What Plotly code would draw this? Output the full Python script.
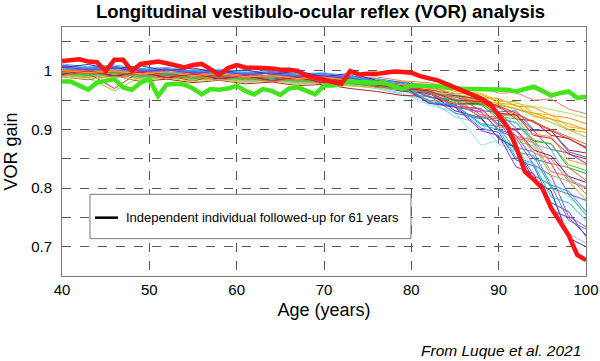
import plotly.graph_objects as go

# ---------------- data ----------------
ages = list(range(40, 101))

# independent individual followed-up for 61 years (thick red)
red_gain = [1.017, 1.018, 1.020, 1.016, 1.015, 1.000, 1.019, 1.019, 1.000, 1.012,
            1.014, 1.016, 1.013, 1.010, 1.006, 1.010, 1.012, 1.003, 0.993, 1.005,
            1.010, 1.006, 1.006, 1.005, 1.004, 1.002, 1.002, 1.000, 0.992, 0.989,
            0.985, 0.981, 0.978, 1.000, 0.994, 0.995, 0.995, 0.997, 0.999, 0.998,
            0.997, 0.991, 0.988, 0.984, 0.978, 0.972, 0.967, 0.961, 0.953, 0.944,
            0.925, 0.905, 0.870, 0.828, 0.815, 0.800, 0.766, 0.743, 0.720, 0.686,
            0.677]

# thick green individual
green_gain = [0.982, 0.982, 0.975, 0.968, 0.980, 0.983, 0.986, 0.972, 0.968, 0.980,
              0.986, 0.957, 0.977, 0.978, 0.977, 0.970, 0.960, 0.969, 0.968, 0.970,
              0.975, 0.966, 0.960, 0.969, 0.966, 0.959, 0.970, 0.972, 0.965, 0.960,
              0.975, 0.975, 0.977, 0.983, 0.981, 0.981, 0.980, 0.979, 0.974, 0.969,
              0.975, 0.975, 0.975, 0.974, 0.972, 0.970, 0.969, 0.969, 0.969, 0.969,
              0.969, 0.968, 0.965, 0.970, 0.973, 0.966, 0.958, 0.962, 0.965, 0.954,
              0.956]

# thin individual trajectories
thin_ages = [40, 43, 46, 49, 52, 55, 58, 61, 64, 67, 70, 73,
             76, 79, 82, 85, 88, 90, 92, 94, 96, 98, 100]

thin_gains = [
    [1.004, 1.000, 1.006, 0.998, 1.002, 0.996, 0.999, 0.994, 0.997, 0.990, 0.993, 0.988,
     0.990, 0.983, 0.980, 0.970, 0.972, 0.962, 0.963, 0.950, 0.952, 0.935, 0.927],
    [0.998, 1.003, 0.995, 1.001, 0.996, 0.999, 0.992, 0.996, 0.990, 0.993, 0.986, 0.989,
     0.984, 0.982, 0.970, 0.968, 0.955, 0.953, 0.940, 0.938, 0.924, 0.920, 0.910],
    [1.008, 1.002, 1.005, 0.999, 1.003, 0.997, 1.000, 0.995, 0.998, 0.992, 0.994, 0.989,
     0.986, 0.980, 0.977, 0.965, 0.962, 0.948, 0.948, 0.928, 0.925, 0.905, 0.900],
    [0.992, 0.988, 0.966, 0.990, 0.985, 0.990, 0.984, 0.987, 0.982, 0.985, 0.980, 0.978,
     0.975, 0.970, 0.965, 0.958, 0.950, 0.944, 0.935, 0.925, 0.912, 0.900, 0.887],
    [1.000, 0.995, 0.999, 0.993, 0.997, 0.991, 0.994, 0.989, 0.992, 0.985, 0.988, 0.982,
     0.980, 0.978, 0.962, 0.960, 0.942, 0.940, 0.918, 0.915, 0.890, 0.885, 0.868],
    [1.010, 1.005, 1.008, 1.002, 1.004, 0.999, 1.001, 0.996, 0.999, 0.994, 0.996, 0.990,
     0.987, 0.980, 0.975, 0.958, 0.952, 0.930, 0.932, 0.900, 0.898, 0.862, 0.853],
    [1.001, 1.006, 0.998, 1.003, 0.996, 1.000, 0.992, 0.997, 0.990, 0.994, 0.986, 0.990,
     0.981, 0.978, 0.960, 0.958, 0.932, 0.930, 0.902, 0.898, 0.866, 0.860, 0.842],
    [0.995, 0.990, 0.994, 0.988, 0.991, 0.985, 0.988, 0.983, 0.986, 0.980, 0.982, 0.977,
     0.973, 0.966, 0.962, 0.945, 0.942, 0.918, 0.912, 0.880, 0.876, 0.835, 0.825],
    [0.997, 1.002, 0.994, 1.000, 0.991, 0.997, 0.988, 0.994, 0.986, 0.991, 0.982, 0.988,
     0.978, 0.976, 0.955, 0.952, 0.925, 0.920, 0.888, 0.882, 0.842, 0.835, 0.813],
    [1.012, 1.007, 1.010, 1.004, 1.006, 1.000, 1.003, 0.998, 1.001, 0.995, 0.997, 0.991,
     0.987, 0.978, 0.972, 0.952, 0.948, 0.920, 0.912, 0.875, 0.866, 0.815, 0.802],
    [1.000, 0.996, 0.999, 0.993, 0.996, 0.990, 0.993, 0.988, 0.990, 0.985, 0.984, 0.978,
     0.972, 0.962, 0.942, 0.930, 0.873, 0.882, 0.865, 0.840, 0.812, 0.785, 0.760],
    [0.999, 1.004, 0.996, 1.002, 0.993, 0.999, 0.990, 0.995, 0.987, 0.993, 0.983, 0.989,
     0.978, 0.968, 0.962, 0.938, 0.930, 0.900, 0.890, 0.850, 0.842, 0.790, 0.779],
    [0.998, 0.993, 0.996, 0.990, 0.993, 0.987, 0.990, 0.985, 0.988, 0.982, 0.984, 0.978,
     0.973, 0.970, 0.946, 0.942, 0.910, 0.905, 0.862, 0.855, 0.800, 0.790, 0.754],
    [1.008, 1.000, 1.006, 1.004, 0.997, 1.002, 0.999, 0.991, 0.997, 0.994, 0.987, 0.993,
     0.982, 0.972, 0.966, 0.940, 0.930, 0.898, 0.885, 0.840, 0.822, 0.752, 0.734],
    [0.998, 1.003, 0.995, 1.001, 0.992, 0.998, 0.989, 0.994, 0.986, 0.992, 0.982, 0.988,
     0.976, 0.972, 0.945, 0.940, 0.902, 0.895, 0.848, 0.838, 0.775, 0.760, 0.717],
    [0.996, 0.991, 0.994, 0.988, 0.991, 0.985, 0.988, 0.983, 0.986, 0.980, 0.982, 0.976,
     0.970, 0.960, 0.950, 0.922, 0.910, 0.875, 0.862, 0.812, 0.795, 0.722, 0.706],
    [0.990, 0.985, 0.992, 0.982, 0.986, 0.980, 0.984, 0.978, 0.981, 0.975, 0.977, 0.970,
     0.965, 0.958, 0.957, 0.943, 0.945, 0.925, 0.925, 0.898, 0.898, 0.865, 0.860],
    [0.994, 0.989, 0.993, 0.986, 0.990, 0.984, 0.987, 0.981, 0.984, 0.978, 0.980, 0.975,
     0.972, 0.968, 0.962, 0.956, 0.948, 0.942, 0.935, 0.928, 0.918, 0.910, 0.900],
    [0.996, 1.001, 0.993, 0.999, 0.990, 0.996, 0.987, 0.993, 0.984, 0.990, 0.980, 0.986,
     0.975, 0.972, 0.950, 0.946, 0.922, 0.918, 0.880, 0.872, 0.822, 0.812, 0.780],
    [1.005, 1.003, 0.996, 1.000, 1.002, 0.994, 0.997, 0.993, 0.988, 0.994, 0.990, 0.984,
     0.979, 0.970, 0.968, 0.950, 0.946, 0.925, 0.922, 0.892, 0.888, 0.848, 0.840],
    [1.009, 1.004, 1.007, 1.001, 1.003, 0.998, 1.000, 0.995, 0.998, 0.992, 0.994, 0.988,
     0.983, 0.980, 0.955, 0.950, 0.920, 0.915, 0.870, 0.862, 0.805, 0.795, 0.760],
    [0.994, 0.999, 0.991, 0.997, 0.988, 0.994, 0.986, 0.991, 0.983, 0.989, 0.979, 0.985,
     0.974, 0.965, 0.962, 0.940, 0.935, 0.908, 0.900, 0.865, 0.855, 0.820, 0.810],
    [1.002, 0.996, 0.970, 1.000, 0.994, 0.982, 0.996, 0.990, 0.993, 0.987, 0.989, 0.983,
     0.979, 0.974, 0.968, 0.960, 0.950, 0.940, 0.928, 0.912, 0.898, 0.884, 0.870],
    [0.990, 0.986, 0.990, 0.984, 0.988, 0.982, 0.985, 0.980, 0.983, 0.977, 0.979, 0.974,
     0.971, 0.968, 0.964, 0.960, 0.955, 0.950, 0.945, 0.940, 0.934, 0.928, 0.920],
    [1.006, 0.998, 1.004, 1.001, 0.995, 1.001, 0.992, 0.997, 0.995, 0.989, 0.991, 0.985,
     0.979, 0.968, 0.958, 0.928, 0.918, 0.885, 0.870, 0.822, 0.805, 0.745, 0.730],
    [0.992, 0.997, 0.989, 0.995, 0.986, 0.992, 0.984, 0.989, 0.981, 0.987, 0.977, 0.983,
     0.972, 0.970, 0.950, 0.946, 0.922, 0.918, 0.885, 0.878, 0.828, 0.820, 0.790],
    [1.000, 0.995, 0.998, 0.992, 0.995, 0.989, 0.992, 0.987, 0.990, 0.984, 0.986, 0.980,
     0.976, 0.970, 0.963, 0.955, 0.945, 0.937, 0.926, 0.914, 0.900, 0.888, 0.875],
    [1.006, 1.011, 1.003, 1.009, 1.000, 1.005, 0.997, 1.002, 0.994, 1.000, 0.990, 0.996,
     0.984, 0.972, 0.963, 0.932, 0.920, 0.885, 0.868, 0.815, 0.795, 0.715, 0.700],
    [1.003, 0.999, 1.001, 0.996, 0.999, 0.993, 0.996, 0.991, 0.993, 0.988, 0.990, 0.984,
     0.980, 0.971, 0.962, 0.940, 0.936, 0.905, 0.898, 0.860, 0.850, 0.812, 0.800],
    [1.001, 1.006, 0.999, 1.004, 0.995, 1.001, 0.993, 0.998, 0.990, 0.995, 0.986, 0.991,
     0.980, 0.976, 0.948, 0.942, 0.908, 0.900, 0.852, 0.842, 0.785, 0.775, 0.745],
    [0.997, 0.992, 0.996, 0.990, 0.993, 0.987, 0.990, 0.985, 0.987, 0.982, 0.984, 0.979,
     0.975, 0.968, 0.965, 0.948, 0.945, 0.922, 0.918, 0.882, 0.875, 0.840, 0.830],
    [1.007, 1.002, 1.005, 0.999, 1.002, 0.996, 0.999, 0.994, 0.996, 0.990, 0.992, 0.986,
     0.980, 0.975, 0.945, 0.938, 0.898, 0.890, 0.836, 0.825, 0.762, 0.750, 0.720],
    [0.995, 1.000, 0.992, 0.998, 0.989, 0.995, 0.987, 0.992, 0.984, 0.989, 0.980, 0.986,
     0.976, 0.970, 0.966, 0.950, 0.948, 0.928, 0.925, 0.890, 0.885, 0.858, 0.850],
    [1.001, 0.997, 1.000, 0.995, 0.998, 0.992, 0.995, 0.990, 0.992, 0.987, 0.989, 0.984,
     0.981, 0.976, 0.972, 0.962, 0.960, 0.945, 0.942, 0.922, 0.918, 0.900, 0.895],
]

thin_colors = ["#f4806a", "#ff8c00", "#f2b600", "#9acd32", "#a01c2c", "#1f6fd8", "#7b2fd0",
               "#2ca02c", "#ff5a1f", "#5ab4f0", "#8fe3f5", "#9b30ff", "#20b070", "#c040c0",
               "#3050e0", "#87c8fa", "#b22222", "#e6a000", "#7ccd3c", "#ff9a20", "#1e90ff",
               "#6a1b9a", "#e8282b", "#b0e060", "#4682b4", "#f06a50", "#d2691e", "#4b2a9a",
               "#ff6347", "#00bfff", "#32cd32", "#8a2be2", "#dc143c", "#ffa500"]

x_ticks = [40, 50, 60, 70, 80, 90, 100]
y_ticks = [0.7, 0.75, 0.8, 0.85, 0.9, 0.95, 1.0, 1.05]
y_tick_text = ["0.7", "", "0.8", "", "0.9", "", "1", ""]

# ---------------- figure ----------------
fig = go.Figure()

for vals, col in zip(thin_gains, thin_colors):
    fig.add_trace(go.Scatter(x=thin_ages, y=vals, mode="lines",
                             line=dict(color=col, width=1),
                             showlegend=False, hoverinfo="skip"))

fig.add_trace(go.Scatter(x=ages, y=green_gain, mode="lines",
                         line=dict(color="#44e41c", width=4.5),
                         showlegend=False, hoverinfo="skip"))
fig.add_trace(go.Scatter(x=ages, y=red_gain, mode="lines",
                         line=dict(color="#ff1414", width=4.5),
                         showlegend=False, hoverinfo="skip"))

grid_col = "#555555"
axis_col = "#7a7a7a"

fig.update_layout(
    width=600, height=361,
    margin=dict(l=62, r=14, t=27, b=85),
    plot_bgcolor="white", paper_bgcolor="white",
    font=dict(family="Liberation Sans, Arial, sans-serif", color="black"),
    title=dict(text="<b>Longitudinal vestibulo-ocular reflex (VOR) analysis</b>",
               x=320.5 / 600, xanchor="center",
               y=1 - 11.5 / 361, yanchor="middle", yref="container",
               font=dict(size=18.5, color="black")),
    xaxis=dict(range=[40, 100], tickvals=x_ticks, ticks="", automargin=False,
               showgrid=True, gridcolor=grid_col, griddash="dash", gridwidth=1,
               showline=True, linecolor=axis_col, linewidth=1, mirror=True,
               zeroline=False, tickfont=dict(size=15),
               title=dict(text="Age (years)", font=dict(size=18), standoff=6)),
    yaxis=dict(range=[0.65, 1.075], tickvals=y_ticks, ticktext=y_tick_text, ticks="",
               automargin=False,
               showgrid=True, gridcolor=grid_col, griddash="dash", gridwidth=1,
               showline=True, linecolor=axis_col, linewidth=1, mirror=True,
               zeroline=False, tickfont=dict(size=15), ticklabelstandoff=6,
               title=dict(text="VOR gain", font=dict(size=18), standoff=8)),
)

# legend box drawn as decoration
fig.add_shape(type="rect", xref="paper", yref="paper",
              x0=0.0534, x1=0.666, y0=0.150, y1=0.328,
              line=dict(color=axis_col, width=1), fillcolor="white", layer="above")
fig.add_shape(type="line", xref="paper", yref="paper",
              x0=0.063, x1=0.107, y0=0.2343, y1=0.2343,
              line=dict(color="black", width=2.5), layer="above")
fig.add_annotation(text="Independent individual followed-up for 61 years",
                   xref="paper", yref="paper", x=0.1183, y=0.2343,
                   xanchor="left", yanchor="middle", showarrow=False,
                   font=dict(size=13, color="black"))

fig.add_annotation(text="<i>From Luque et al. 2021</i>",
                   xref="paper", yref="paper", x=0.995, y=-0.298,
                   xanchor="right", yanchor="middle", showarrow=False,
                   font=dict(size=15.5, color="black"))

fig.write_html("out.html",
               config={"displayModeBar": False},
               post_script="document.body.style.margin='0';"
                           "document.body.style.overflow='hidden';")
